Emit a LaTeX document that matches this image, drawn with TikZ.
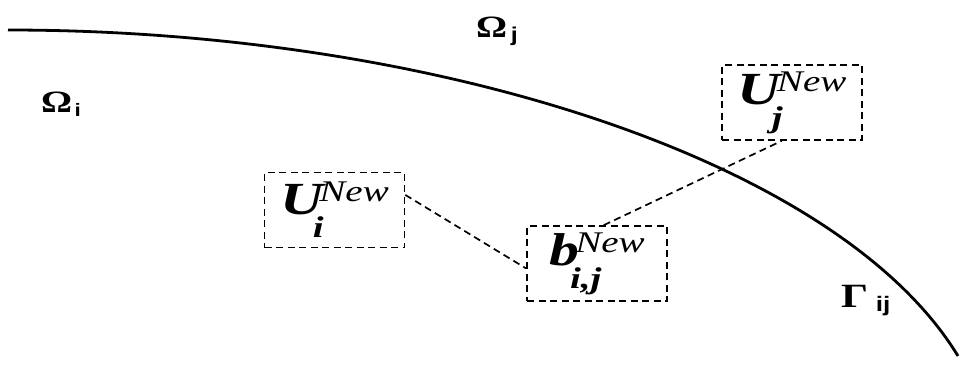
\documentclass[tikz,border=0pt]{standalone}
\usepackage{fontspec}
\setmainfont{Liberation Serif}
\newfontfamily\sansb{Liberation Sans}
% variable with superscript and subscript, stretched horizontally like the reference
\newcommand\bigsym[4]{\scalebox{1.3}[1]{{\fontsize{46}{46}\selectfont\bfseries\itshape #1}%
  \rlap{\kern#4\raisebox{-23pt}{\fontsize{30}{30}\selectfont\bfseries\itshape #3}}%
  \kern-3pt\raisebox{13pt}{\fontsize{30}{30}\selectfont\itshape #2}}}
\newcommand\regsym[5]{\scalebox{1.25}[1]{{\fontsize{#3}{#3}\selectfont\bfseries #1}\kern#4\raisebox{-4pt}{\fontsize{#5}{#5}\selectfont\sansb\bfseries #2}}}
\tikzset{
  varbox/.style={draw, dash pattern=on 7pt off 4.5pt, line width=1.7pt, minimum width=140pt, minimum height=75pt, inner sep=0pt, anchor=center},
  link/.style={draw, dash pattern=on 7pt off 4.5pt, line width=1.7pt},
  region/.style={inner sep=0pt, anchor=base west}
}
\begin{document}
\begin{tikzpicture}[x=1pt,y=-1pt]
\useasboundingbox (0,0) rectangle (960,370);
\coordinate (cs) at (8,30);
\coordinate (ce) at (958,356);
\draw[line width=2.8pt] (cs) .. controls (430,30) and (838,159) .. (ce);
\node[varbox] (Ui) at (334.5,210) {\bigsym{U}{New}{i}{-8pt}};
\node[varbox] (bij) at (597,263.5) {\bigsym{b}{New}{i,j}{-7pt}};
\node[varbox] (Uj) at (792,102.5) {\bigsym{U}{New}{j}{-7pt}};
\draw[link] (Ui.12) -- (bij.184);
\draw[link] (bij.80) -- (Uj.255);
\node[region] (Oi) at (41,112) {\regsym{Ω}{i}{31}{2pt}{18}};
\node[region] (Oj) at (476,37) {\regsym{Ω}{j}{31}{3pt}{20}};
\node[region] (Gij) at (841,307) {\regsym{Γ}{ij}{34}{6pt}{21}};
\end{tikzpicture}
\end{document}
